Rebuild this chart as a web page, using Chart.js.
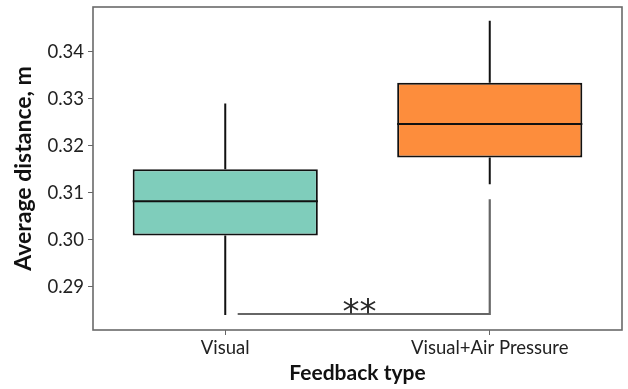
<!DOCTYPE html>
<html>
<head>
<meta charset="utf-8">
<script src="https://cdn.jsdelivr.net/npm/chart.js@4.4.1/dist/chart.umd.min.js"></script>
<style>
  html, body { margin: 0; padding: 0; background: #ffffff; }
  #wrap { width: 628px; height: 389px; }
</style>
</head>
<body>
<div id="wrap"><canvas id="chart" width="628" height="389"></canvas></div>
<script>
// Feedback conditions on the x axis
const categories = ['Visual', 'Visual+Air Pressure'];

// Five-number summaries of the average distance (m)
const whiskerLow  = [0.2840, 0.3118];
const quartile1   = [0.3009, 0.3175];
const medians     = [0.3082, 0.3246];
const quartile3   = [0.3150, 0.3334];
const whiskerHigh = [0.3290, 0.3466];

// Y axis tick values
const yTicks = [0.29, 0.30, 0.31, 0.32, 0.33, 0.34];

// Significance bracket between the two conditions
const bracketX = [0.047, 1];
const bracketY = [0.2842, 0.3086];
const sigLabel = '**';

const boxColors = ['#7fcdbb', '#fd8d3c'];
const FONT = 'Lato, "Open Sans", sans-serif';

// Whiskers, medians, frame and significance bracket
const boxExtras = {
  id: 'boxExtras',
  afterDatasetsDraw(chart) {
    const ctx = chart.ctx;
    const xs = chart.scales.x;
    const ys = chart.scales.y;
    const meta = chart.getDatasetMeta(0);
    ctx.save();
    ctx.strokeStyle = '#111111';
    ctx.lineWidth = 2;
    ctx.lineCap = 'butt';
    categories.forEach((c, i) => {
      const x = xs.getPixelForValue(i);
      const bar = meta.data[i];
      const half = bar.width / 2;
      ctx.beginPath();
      ctx.moveTo(x, ys.getPixelForValue(whiskerLow[i]));
      ctx.lineTo(x, ys.getPixelForValue(quartile1[i]));
      ctx.moveTo(x, ys.getPixelForValue(quartile3[i]));
      ctx.lineTo(x, ys.getPixelForValue(whiskerHigh[i]));
      ctx.stroke();
      const my = ys.getPixelForValue(medians[i]);
      ctx.beginPath();
      ctx.moveTo(bar.x - half, my);
      ctx.lineTo(bar.x + half, my);
      ctx.stroke();
    });

    // significance bracket
    const bx0 = xs.getPixelForValue(bracketX[0]);
    const bx1 = xs.getPixelForValue(bracketX[1]);
    const by0 = ys.getPixelForValue(bracketY[0]);
    const by1 = ys.getPixelForValue(bracketY[1]);
    ctx.strokeStyle = '#666666';
    ctx.lineWidth = 2.2;
    ctx.lineJoin = 'miter';
    ctx.beginPath();
    ctx.moveTo(bx0, by0);
    ctx.lineTo(bx1, by0);
    ctx.lineTo(bx1, by1);
    ctx.stroke();
    ctx.fillStyle = '#2a2a2a';
    ctx.font = '34px "DejaVu Sans", sans-serif';
    ctx.textAlign = 'center';
    ctx.textBaseline = 'alphabetic';
    ctx.fillText(sigLabel, xs.getPixelForValue(0.5) + 2, by0 + 9);

    // plot frame
    const a = chart.chartArea;
    ctx.strokeStyle = '#6a6a6a';
    ctx.lineWidth = 1.6;
    ctx.strokeRect(a.left, a.top, a.right - a.left, a.bottom - a.top);
    ctx.restore();
  }
};

new Chart(document.getElementById('chart'), {
  type: 'bar',
  data: {
    labels: categories,
    datasets: [{
      data: categories.map((c, i) => [quartile1[i], quartile3[i]]),
      backgroundColor: boxColors,
      borderColor: '#111111',
      borderWidth: 2,
      borderSkipped: false,
      barPercentage: 0.7,
      categoryPercentage: 1.0
    }]
  },
  options: {
    responsive: false,
    animation: false,
    devicePixelRatio: 1,
    layout: { padding: { top: 7, right: 6, left: 0, bottom: 0 } },
    plugins: { legend: { display: false }, tooltip: { enabled: false } },
    scales: {
      x: {
        grid: { display: true, offset: false, drawOnChartArea: false, drawTicks: true, tickLength: 5, color: '#666666' },
        border: { display: false },
        ticks: { color: '#222222', font: { family: FONT, size: 18.5 }, padding: 2, maxRotation: 0 },
        title: { display: true, text: 'Feedback type', color: '#111111',
                 font: { family: FONT, size: 21, weight: 'bold' }, padding: { top: 0, bottom: 3 } },
        afterFit(scale) { scale.height = 59; scale.paddingLeft = 0; scale.paddingRight = 0; }
      },
      y: {
        min: 0.2808,
        max: 0.3495,
        grid: { display: true, drawOnChartArea: false, drawTicks: true, tickLength: 5, color: '#666666' },
        border: { display: false },
        ticks: {
          color: '#222222', font: { family: FONT, size: 18.5 }, padding: 4,
          callback: (v) => Number(v).toFixed(2)
        },
        afterBuildTicks(scale) { scale.ticks = yTicks.map(v => ({ value: v })); },
        title: { display: true, text: 'Average distance, m', color: '#111111',
                 font: { family: FONT, size: 23, weight: 'bold' }, padding: { top: 10, bottom: 4 } },
        afterFit(scale) { scale.width = 93; scale.paddingTop = 0; scale.paddingBottom = 0; }
      }
    }
  },
  plugins: [boxExtras]
});
</script>
</body>
</html>
